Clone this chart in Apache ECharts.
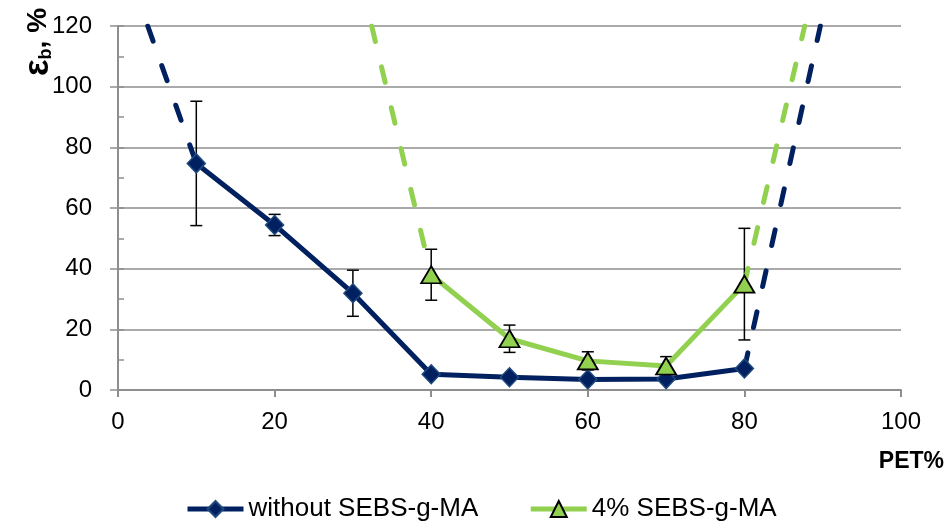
<!DOCTYPE html>
<html>
<head>
<meta charset="utf-8">
<script src="https://cdn.jsdelivr.net/npm/echarts@6/dist/echarts.min.js"></script>
<style>
  html, body { margin: 0; padding: 0; background: #fff; }
  #chart { width: 952px; height: 528px; }
</style>
</head>
<body>
<div id="chart"></div>
<script>
// Elongation at break vs PET content
const xTicks = [0, 20, 40, 60, 80, 100];
const yTicks = [0, 20, 40, 60, 80, 100, 120];

const withoutName = 'without SEBS-g-MA';
const withoutX = [10, 20, 30, 40, 50, 60, 70, 80];
const withoutVals = [74.7, 54.4, 31.9, 5.2, 4.2, 3.5, 3.6, 7.1];
const withoutErr = [20.5, 3.5, 7.6, 0, 0, 0, 0, 0];
// dashed trend continuations beyond the measured range
const withoutTrendLeft = [[3.8, 120], [10, 74.7]];
const withoutTrendRight = [[80, 7.1], [89.7, 120]];

const sebsName = '4% SEBS-g-MA';
const sebsX = [40, 50, 60, 70, 80];
const sebsVals = [38.0, 16.9, 9.6, 7.9, 34.9];
const sebsErr = [8.4, 4.5, 3.0, 3.1, 18.4];
const sebsTrendLeft = [[32.4, 120], [40, 38.0]];
const sebsTrendRight = [[80, 34.9], [87.7, 120]];

const NAVY = '#002060';
const GREEN = '#92D050';
const GRID = '#8E8E8E';
const FONT = 'Liberation Sans, Arial, sans-serif';

function pairs(xs, ys) { return xs.map((x, i) => [x, ys[i]]); }
function errRows(xs, ys, es) {
  const rows = [];
  xs.forEach((x, i) => { if (es[i] > 0) rows.push([x, ys[i] - es[i], ys[i] + es[i]]); });
  return rows;
}

function errorBarSeries(rows) {
  return {
    type: 'custom',
    z: 1,
    silent: true,
    data: rows,
    renderItem: function (params, api) {
      const lo = api.coord([api.value(0), api.value(1)]);
      const hi = api.coord([api.value(0), api.value(2)]);
      const cap = 6;
      const st = { stroke: '#000', lineWidth: 1.5, fill: null };
      return {
        type: 'group',
        children: [
          { type: 'line', shape: { x1: hi[0], y1: hi[1], x2: lo[0], y2: lo[1] }, style: st },
          { type: 'line', shape: { x1: hi[0] - cap, y1: hi[1], x2: hi[0] + cap, y2: hi[1] }, style: st },
          { type: 'line', shape: { x1: lo[0] - cap, y1: lo[1], x2: lo[0] + cap, y2: lo[1] }, style: st }
        ]
      };
    }
  };
}

function trendSeries(name, data, color) {
  return {
    name: name,
    type: 'line',
    z: 2,
    data: data,
    symbol: 'none',
    silent: true,
    lineStyle: { color: color, width: 5, type: [16, 26], cap: 'round' }
  };
}

const chart = echarts.init(document.getElementById('chart'), null, { renderer: 'canvas' });

chart.setOption({
  animation: false,
  backgroundColor: '#fff',
  grid: { left: 118, right: 51, top: 26, bottom: 138 },
  xAxis: {
    type: 'value',
    min: xTicks[0], max: xTicks[xTicks.length - 1], interval: 20,
    axisLine: { lineStyle: { color: GRID, width: 2 } },
    axisTick: { show: true, length: 7, lineStyle: { color: GRID, width: 2 } },
    axisLabel: { color: '#000', fontFamily: FONT, fontSize: 24, margin: 20 },
    splitLine: { show: false }
  },
  yAxis: [{
    type: 'value',
    min: yTicks[0], max: yTicks[yTicks.length - 1], interval: 20,
    axisLine: { show: true, lineStyle: { color: GRID, width: 2 } },
    axisTick: { show: true, length: 8, lineStyle: { color: GRID, width: 1.5 } },
    axisLabel: { color: '#000', fontFamily: FONT, fontSize: 24, margin: 26 },
    splitLine: { show: true, lineStyle: { color: GRID, width: 1.5 } }
  }, {
    // inner minor ticks every 10 units
    type: 'value',
    position: 'left',
    min: yTicks[0], max: yTicks[yTicks.length - 1], interval: 10,
    axisLine: { show: false },
    axisTick: { show: true, inside: true, length: 6, lineStyle: { color: GRID, width: 1.5 } },
    axisLabel: { show: false },
    splitLine: { show: false }
  }],
  legend: {
    data: [withoutName, sebsName],
    left: 185,
    top: 496,
    padding: 0,
    itemWidth: 56,
    itemHeight: 20,
    itemGap: 50,
    lineStyle: { width: 5 },
    textStyle: { color: '#000', fontFamily: FONT, fontSize: 26 }
  },
  series: [
    errorBarSeries(errRows(withoutX, withoutVals, withoutErr)),
    errorBarSeries(errRows(sebsX, sebsVals, sebsErr)),
    trendSeries('without trend left', withoutTrendLeft, NAVY),
    trendSeries('without trend right', withoutTrendRight, NAVY),
    {
      name: withoutName,
      type: 'line',
      z: 3,
      data: pairs(withoutX, withoutVals),
      symbol: 'diamond',
      symbolSize: [18, 19],
      lineStyle: { color: NAVY, width: 5 },
      itemStyle: { color: NAVY, borderColor: '#1F4A7E', borderWidth: 1.5 }
    },
    trendSeries('sebs trend left', sebsTrendLeft, GREEN),
    trendSeries('sebs trend right', sebsTrendRight, GREEN),
    {
      name: sebsName,
      type: 'line',
      z: 3,
      data: pairs(sebsX, sebsVals),
      symbol: 'triangle',
      symbolSize: [20, 17],
      lineStyle: { color: GREEN, width: 5 },
      itemStyle: { color: GREEN, borderColor: '#000', borderWidth: 1.8 }
    }
  ],
  graphic: [
    {
      type: 'text',
      x: 38, y: 42,
      rotation: Math.PI / 2,
      style: {
        text: '{e|ε}{s|b}{c|, %}',
        textAlign: 'center',
        textVerticalAlign: 'middle',
        fill: '#000',
        rich: {
          e: { fontFamily: FONT, fontWeight: 'bold', fontSize: 35, lineHeight: 34, fill: '#000' },
          s: { fontFamily: FONT, fontWeight: 'bold', fontSize: 18, lineHeight: 18, verticalAlign: 'bottom', fill: '#000' },
          c: { fontFamily: FONT, fontWeight: 'bold', fontSize: 28, lineHeight: 34, fill: '#000' }
        }
      }
    },
    {
      type: 'text',
      x: 944, y: 462,
      style: {
        text: 'PET%',
        textAlign: 'right',
        textVerticalAlign: 'middle',
        fill: '#000',
        font: 'bold 23px ' + FONT
      }
    }
  ]
});
</script>
</body>
</html>
